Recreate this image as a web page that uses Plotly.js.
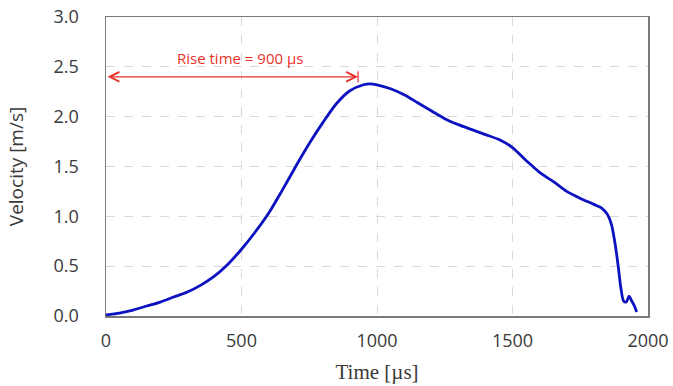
<!DOCTYPE html>
<html>
<head>
<meta charset="utf-8">
<script src="https://cdn.plot.ly/plotly-3.0.1.min.js"></script>
<style>html,body{margin:0;padding:0;background:#fff;}#chart{width:673px;height:386px;}</style>
</head>
<body>
<div id="chart"></div>
<script>
const timeUs = [0, 50, 100, 150, 200, 250, 300, 350, 400, 450, 500, 550, 600, 650, 700, 750, 800, 850, 900, 950, 975, 1000, 1050, 1100, 1150, 1200, 1250, 1300, 1350, 1400, 1450, 1500, 1550, 1575, 1600, 1650, 1700, 1750, 1800, 1830, 1850, 1865, 1880, 1890, 1900, 1910, 1920, 1930, 1940, 1950, 1958];
const velocity = [0.01, 0.03, 0.06, 0.10, 0.14, 0.19, 0.24, 0.31, 0.40, 0.52, 0.67, 0.84, 1.03, 1.26, 1.50, 1.73, 1.94, 2.13, 2.26, 2.32, 2.33, 2.32, 2.28, 2.22, 2.14, 2.06, 1.98, 1.92, 1.87, 1.82, 1.77, 1.69, 1.56, 1.50, 1.44, 1.35, 1.25, 1.18, 1.12, 1.08, 1.02, 0.92, 0.70, 0.50, 0.28, 0.15, 0.14, 0.20, 0.15, 0.10, 0.04];
const xTicks = [0, 500, 1000, 1500, 2000];
const yTicks = [0, 0.5, 1.0, 1.5, 2.0, 2.5, 3.0];
const riseStart = 0, riseEnd = 930, riseLevel = 2.4;
const riseLabel = 'Rise time = 900 µs';

const trace = {
  x: timeUs, y: velocity, type: 'scatter', mode: 'lines',
  line: {color: '#0c12c0', width: 2.8, shape: 'spline', smoothing: 0.8},
  hoverinfo: 'skip'
};

const txtColor = '#3a3a3a';
const tickFont = {family: 'Open Sans, sans-serif', size: 18, color: txtColor};
const layout = {
  width: 673, height: 386,
  margin: {l: 106, r: 25, t: 17, b: 70},
  paper_bgcolor: '#fff', plot_bgcolor: '#fff',
  showlegend: false,
  xaxis: {
    range: [0, 2000], tickvals: xTicks, ticktext: xTicks.map(String),
    showgrid: true, gridcolor: '#d9d9d9', griddash: 'dash', gridwidth: 1,
    showline: true, linecolor: '#7a7a7a', linewidth: 1.5, mirror: true,
    zeroline: false, ticks: 'outside', ticklen: 8, tickcolor: 'rgba(0,0,0,0)',
    tickfont: tickFont,
    title: {text: 'Time [µs]', font: {family: 'Liberation Serif, serif', size: 21, color: txtColor}, standoff: 13}
  },
  yaxis: {
    range: [0, 3.0], tickvals: yTicks, ticktext: yTicks.map(v => v.toFixed(1)),
    showgrid: true, gridcolor: '#d9d9d9', griddash: 'dash', gridwidth: 1,
    showline: true, linecolor: '#7a7a7a', linewidth: 1.5, mirror: true,
    zeroline: false, ticks: 'outside', ticklen: 22, tickcolor: 'rgba(0,0,0,0)',
    tickfont: tickFont,
    title: {text: 'Velocity [m/s]', font: {family: 'Open Sans, sans-serif', size: 19, color: txtColor}, standoff: 25}
  },
  annotations: [
    {x: riseEnd, y: riseLevel, ax: riseStart, ay: riseLevel, xref: 'x', yref: 'y', axref: 'x', ayref: 'y',
     text: '', showarrow: true, arrowhead: 5, startarrowhead: 5, arrowside: 'end+start',
     arrowsize: 1.6, startarrowsize: 1.6, arrowwidth: 1.2, arrowcolor: '#e8302a', standoff: 0, startstandoff: 0},
    {x: 494, y: riseLevel, xref: 'x', yref: 'y', yanchor: 'bottom', yshift: 7,
     text: riseLabel, showarrow: false,
     font: {family: 'Open Sans, sans-serif', size: 15, color: '#e8302a'}}
  ],
  shapes: [
    {type: 'line', xref: 'x', yref: 'y', x0: riseEnd, x1: riseEnd, y0: riseLevel - 0.055, y1: riseLevel + 0.055,
     line: {color: '#e8302a', width: 1.2}}
  ]
};

Plotly.newPlot('chart', [trace], layout, {staticPlot: true, displayModeBar: false});
</script>
</body>
</html>
